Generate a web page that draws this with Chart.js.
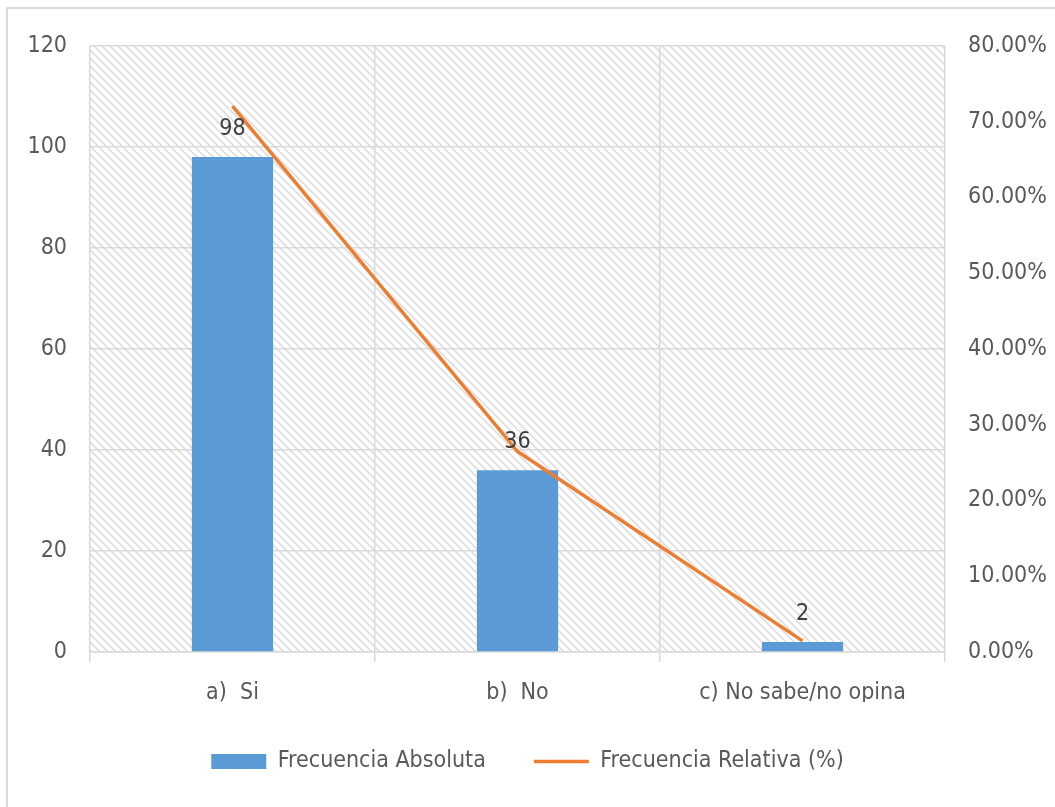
<!DOCTYPE html>
<html>
<head>
<meta charset="utf-8">
<script src="https://cdn.jsdelivr.net/npm/chart.js@4"></script>
<style>
  html, body { margin: 0; padding: 0; background: #fff; }
  #wrap { width: 1055px; height: 807px; }
</style>
</head>
<body>
<div id="wrap"><canvas id="myChart" width="1055" height="807"></canvas></div>
<script>
// datos del grafico
const categorias = ['a)  Si', 'b)  No', 'c) No sabe/no opina'];
const frecuencia_absoluta = [98, 36, 2];
const frecuencia_relativa = [72.06, 26.47, 1.47];
const ticks_izq = [0, 20, 40, 60, 80, 100, 120];
const ticks_der = [0, 10, 20, 30, 40, 50, 60, 70, 80];

const FUENTE = "'Liberation Sans Narrow', 'DejaVu Sans Condensed', sans-serif";
const TAM = 23;

// patron de rayas diagonales del fondo
function crearPatron(ctx) {
  const n = 8;
  const tile = document.createElement('canvas');
  tile.width = n;
  tile.height = n;
  const t = tile.getContext('2d');
  t.fillStyle = '#ffffff';
  t.fillRect(0, 0, n, n);
  t.strokeStyle = '#dedede';
  t.lineWidth = 1.6;
  t.beginPath();
  t.moveTo(-1, -1); t.lineTo(n + 1, n + 1);
  t.moveTo(-n - 1, -1); t.lineTo(1, n + 1);
  t.moveTo(n - 1, -1); t.lineTo(2 * n + 1, n + 1);
  t.stroke();
  return ctx.createPattern(tile, 'repeat');
}

const fondo = {
  id: 'fondo',
  beforeDraw(chart) {
    const ctx = chart.ctx;
    const a = chart.chartArea;
    ctx.save();
    ctx.fillStyle = '#ffffff';
    ctx.fillRect(0, 0, chart.width, chart.height);
    // borde exterior
    ctx.strokeStyle = '#d9d9d9';
    ctx.lineWidth = 2;
    ctx.beginPath();
    ctx.moveTo(7, chart.height);
    ctx.lineTo(7, 8);
    ctx.lineTo(chart.width, 8);
    ctx.stroke();
    ctx.fillStyle = crearPatron(ctx);
    ctx.fillRect(a.left, a.top, a.right - a.left, a.bottom - a.top);
    ctx.restore();
  }
};

const etiquetas = {
  id: 'etiquetas',
  afterDatasetsDraw(chart) {
    const ctx = chart.ctx;
    const meta = chart.getDatasetMeta(0);
    ctx.save();
    ctx.font = TAM + 'px ' + FUENTE;
    ctx.fillStyle = '#404040';
    ctx.textAlign = 'center';
    ctx.textBaseline = 'alphabetic';
    meta.data.forEach(function(bar, i) {
      ctx.fillText(String(frecuencia_absoluta[i]), bar.x, bar.y - 22);
    });
    ctx.restore();
  }
};

const config = {
  type: 'bar',
  data: {
    labels: categorias,
    datasets: [{
      label: 'Frecuencia Absoluta',
      data: frecuencia_absoluta,
      backgroundColor: '#5b9bd5',
      borderWidth: 0,
      barPercentage: 0.285,
      categoryPercentage: 1,
      yAxisID: 'y',
      pointStyle: 'rect',
      order: 1
    }, {
      type: 'line',
      label: 'Frecuencia Relativa (%)',
      data: frecuencia_relativa,
      borderColor: '#ed7d31',
      backgroundColor: '#ed7d31',
      borderWidth: 3.5,
      pointRadius: 0,
      pointStyle: 'line',
      tension: 0,
      yAxisID: 'y1',
      order: 0
    }]
  },
  options: {
    responsive: false,
    animation: false,
    layout: { padding: { top: 46, bottom: 24, left: 0, right: 0 } },
    plugins: {
      tooltip: { enabled: false },
      legend: {
        position: 'bottom',
        labels: {
          sort: function(a, b) { return a.datasetIndex - b.datasetIndex; },
          usePointStyle: true,
          pointStyleWidth: 55,
          boxHeight: 15,
          padding: 48,
          color: '#595959',
          font: { family: FUENTE, size: TAM }
        }
      }
    },
    scales: {
      x: {
        offset: true,
        grid: {
          offset: true,
          color: '#d9d9d9',
          lineWidth: 1.5,
          tickLength: 10
        },
        border: { color: '#d9d9d9', width: 1.5 },
        ticks: {
          color: '#595959',
          padding: 17,
          font: { family: FUENTE, size: TAM }
        },
        afterFit: function(scale) { scale.height = 50; }
      },
      y: {
        position: 'left',
        min: 0,
        max: 120,
        afterBuildTicks: function(scale) {
          scale.ticks = ticks_izq.map(function(v) { return { value: v }; });
        },
        grid: { color: '#d9d9d9', lineWidth: 1.5, drawTicks: false },
        border: { display: false },
        ticks: {
          color: '#595959',
          padding: 23,
          font: { family: FUENTE, size: TAM }
        },
        afterFit: function(scale) { scale.width = 90; }
      },
      y1: {
        position: 'right',
        min: 0,
        max: 80,
        afterBuildTicks: function(scale) {
          scale.ticks = ticks_der.map(function(v) { return { value: v }; });
        },
        grid: { drawOnChartArea: false, drawTicks: false },
        border: { display: false },
        ticks: {
          color: '#595959',
          padding: 23,
          font: { family: FUENTE, size: TAM },
          callback: function(v) { return v.toFixed(2) + '%'; }
        },
        afterFit: function(scale) { scale.width = 110; }
      }
    }
  },
  plugins: [fondo, etiquetas]
};

const myChart = new Chart(document.getElementById('myChart'), config);
</script>
</body>
</html>
